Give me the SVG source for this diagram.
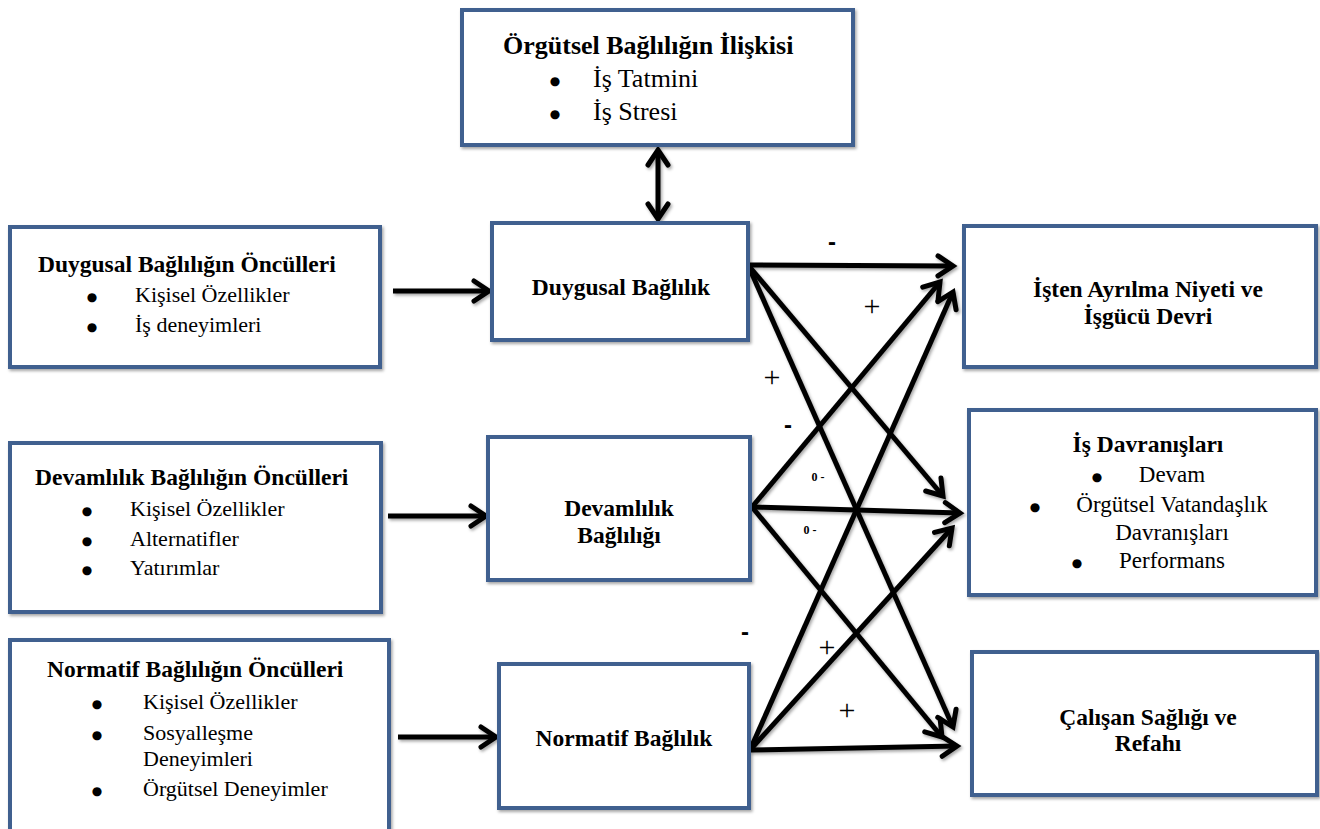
<svg xmlns="http://www.w3.org/2000/svg" width="1320" height="829" viewBox="0 0 1320 829">
<style>
.box{fill:#fff;stroke:#41618f;stroke-width:4}
.t{font-family:"Liberation Serif","Times New Roman",serif;fill:#000}
.b{font-weight:bold;font-size:23.5px}
.r{font-size:22px}
.r2{font-size:23px}
.tb{font-weight:bold;font-size:26px}
.tr{font-size:26px}
.bu{font-family:"DejaVu Sans",sans-serif;font-size:12px;text-anchor:middle;fill:#000}
.c{text-anchor:middle}
.ln{fill:none;stroke:#000;stroke-width:5;marker-end:url(#ah)}
.sg{font-family:"Liberation Serif","Times New Roman",serif;font-size:30px;text-anchor:middle}
.mi{font-family:"Liberation Sans",sans-serif;font-size:24px;font-weight:bold;text-anchor:middle}
.z{font-family:"Liberation Serif",serif;font-size:12px;font-weight:bold;text-anchor:middle}
</style>
<defs>
<marker id="ah" viewBox="0 0 22 26" refX="19" refY="13" markerWidth="22" markerHeight="26" markerUnits="userSpaceOnUse" orient="auto-start-reverse" style="overflow:visible">
<path d="M4,3 L19,13 L4,23" fill="none" stroke="#000" stroke-width="5" stroke-linecap="round"/>
</marker>
<filter id="sh" x="-10%" y="-10%" width="120%" height="120%">
<feDropShadow dx="1.5" dy="2" stdDeviation="1.5" flood-color="#000" flood-opacity="0.35"/>
</filter>
</defs>
<rect width="1320" height="829" fill="#fff"/>

<g id="connectors" filter="url(#sh)">
<path class="ln" d="M658,150 L658,219" marker-start="url(#ah)"/>
<path class="ln" d="M393,291 L489,291"/>
<path class="ln" d="M388,516 L486,516"/>
<path class="ln" d="M398,737 L496,737"/>
<path class="ln" d="M748,265 L953,266"/>
<path class="ln" d="M748,265 L943,496"/>
<path class="ln" d="M748,265 L953,727"/>
<path class="ln" d="M752,507 L940,282"/>
<path class="ln" d="M752,507 L960,513"/>
<path class="ln" d="M752,507 L942,737"/>
<path class="ln" d="M750,750 L953,292"/>
<path class="ln" d="M750,750 L952,528"/>
<path class="ln" d="M750,750 L957,746"/>
</g>

<g id="labels">
<text class="mi" x="832" y="250">-</text>
<text class="sg" x="872" y="316">+</text>
<text class="sg" x="772" y="387">+</text>
<text class="mi" x="788" y="433">-</text>
<text class="z" x="818" y="481">0 -</text>
<text class="z" x="810" y="534">0 -</text>
<text class="mi" x="745" y="640">-</text>
<text class="sg" x="827" y="657">+</text>
<text class="sg" x="847" y="720">+</text>
</g>

<g id="top">
<rect class="box" x="462" y="10" width="391" height="135" filter="url(#sh)"/>
<text class="t tb" x="503" y="54">Örgütsel Bağlılığın İlişkisi</text>
<text class="bu" x="555" y="85">●</text>
<text class="t tr" x="593" y="87">İş Tatmini</text>
<text class="bu" x="555" y="118">●</text>
<text class="t tr" x="593" y="120">İş Stresi</text>
</g>

<g id="ant-duygusal">
<rect class="box" x="10" y="227" width="370" height="140" filter="url(#sh)"/>
<text class="t b" x="38" y="272">Duygusal Bağlılığın Öncülleri</text>
<text class="bu" x="92" y="301">●</text>
<text class="t r" x="135" y="302">Kişisel Özellikler</text>
<text class="bu" x="92" y="331">●</text>
<text class="t r" x="135" y="332">İş deneyimleri</text>
</g>

<g id="ant-devamlilik">
<rect class="box" x="10" y="443" width="371" height="169" filter="url(#sh)"/>
<text class="t b" x="35" y="485">Devamlılık Bağlılığın Öncülleri</text>
<text class="bu" x="87" y="515">●</text>
<text class="t r" x="130" y="516">Kişisel Özellikler</text>
<text class="bu" x="87" y="545">●</text>
<text class="t r" x="130" y="546">Alternatifler</text>
<text class="bu" x="87" y="574">●</text>
<text class="t r" x="130" y="575">Yatırımlar</text>
</g>

<g id="ant-normatif">
<rect class="box" x="10" y="640" width="379" height="200" filter="url(#sh)"/>
<text class="t b" x="47" y="677">Normatif Bağlılığın Öncülleri</text>
<text class="bu" x="97" y="708">●</text>
<text class="t r" x="143" y="709">Kişisel Özellikler</text>
<text class="bu" x="97" y="739">●</text>
<text class="t r" x="143" y="740">Sosyalleşme</text>
<text class="t r" x="143" y="766">Deneyimleri</text>
<text class="bu" x="97" y="795">●</text>
<text class="t r" x="143" y="796">Örgütsel Deneyimler</text>
</g>

<g id="duygusal">
<rect class="box" x="492" y="223" width="256" height="117" filter="url(#sh)"/>
<text class="t b c" x="621" y="295">Duygusal Bağlılık</text>
</g>

<g id="devamlilik">
<rect class="box" x="488" y="437" width="262" height="143" filter="url(#sh)"/>
<text class="t b c" x="619" y="516">Devamlılık</text>
<text class="t b c" x="619" y="543">Bağlılığı</text>
</g>

<g id="normatif">
<rect class="box" x="499" y="664" width="250" height="144" filter="url(#sh)"/>
<text class="t b c" x="624" y="746">Normatif Bağlılık</text>
</g>

<g id="ayrilma">
<rect class="box" x="964" y="226" width="352" height="141" filter="url(#sh)"/>
<text class="t b c" x="1148" y="297">İşten Ayrılma Niyeti ve</text>
<text class="t b c" x="1148" y="324">İşgücü Devri</text>
</g>

<g id="davranislar">
<rect class="box" x="969" y="410" width="347" height="185" filter="url(#sh)"/>
<text class="t b c" x="1148" y="452">İş Davranışları</text>
<text class="bu" x="1097" y="481">●</text>
<text class="t r2 c" x="1172" y="482">Devam</text>
<text class="bu" x="1035" y="511">●</text>
<text class="t r2 c" x="1172" y="512">Örgütsel Vatandaşlık</text>
<text class="t r2 c" x="1172" y="540">Davranışları</text>
<text class="bu" x="1077" y="567">●</text>
<text class="t r2 c" x="1172" y="568">Performans</text>
</g>

<g id="saglik">
<rect class="box" x="972" y="652" width="345" height="143" filter="url(#sh)"/>
<text class="t b c" x="1148" y="725">Çalışan Sağlığı ve</text>
<text class="t b c" x="1148" y="751">Refahı</text>
</g>
</svg>
